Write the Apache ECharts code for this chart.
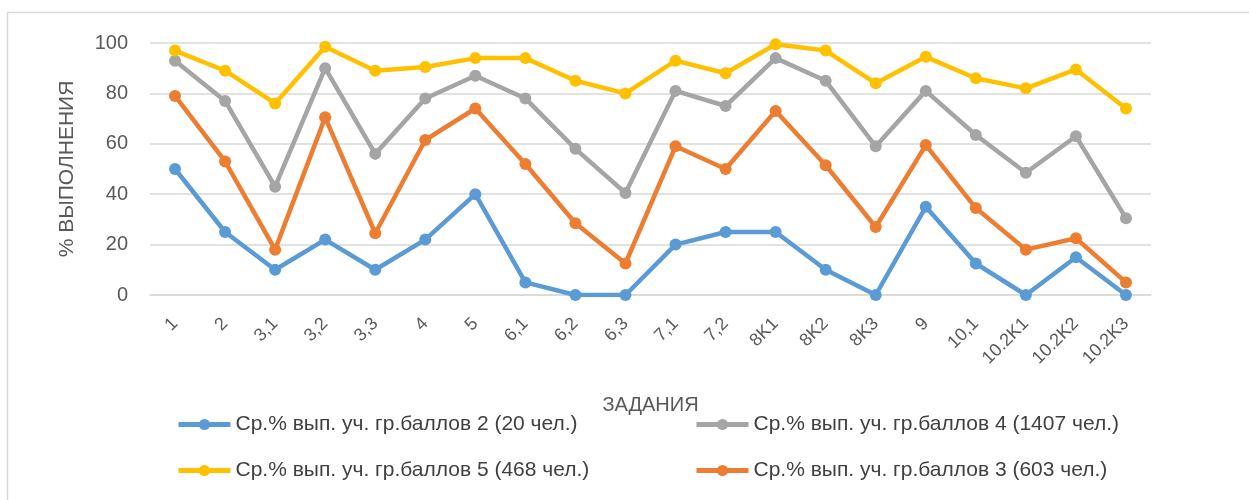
<!DOCTYPE html>
<html>
<head>
<meta charset="utf-8">
<script src="https://cdn.jsdelivr.net/npm/echarts@6/dist/echarts.min.js"></script>
<style>
  html, body { margin: 0; padding: 0; background: #fff; }
  #chart { width: 1249px; height: 500px; }
</style>
</head>
<body>
<div id="chart"></div>
<script>
// задания
var categories = ['1', '2', '3,1', '3,2', '3,3', '4', '5', '6,1', '6,2', '6,3', '7,1', '7,2', '8K1', '8K2', '8K3', '9', '10,1', '10.2K1', '10.2K2', '10.2K3']
var yTicks = [0, 20, 40, 60, 80, 100]

var names = [
  'Ср.% вып. уч. гр.баллов 2 (20 чел.)',
  'Ср.% вып. уч. гр.баллов 4 (1407 чел.)',
  'Ср.% вып. уч. гр.баллов 5 (468 чел.)',
  'Ср.% вып. уч. гр.баллов 3 (603 чел.)'
]

var ball2 = [50, 25, 10, 22, 10, 22, 40, 5, 0, 0, 20, 25, 25, 10, 0, 35, 12.5, 0, 15, 0]
var ball4 = [93, 77, 43, 90, 56, 78, 87, 78, 58, 40.5, 81, 75, 94, 85, 59, 81, 63.5, 48.5, 63, 30.5]
var ball5 = [97, 89, 76, 98.5, 89, 90.5, 94, 94, 85, 80, 93, 88, 99.5, 97, 84, 94.5, 86, 82, 89.5, 74]
var ball3 = [79, 53, 18, 70.5, 24.5, 61.5, 74, 52, 28.5, 12.5, 59, 50, 73, 51.5, 27, 59.5, 34.5, 18, 22.5, 5]

var colors = ['#5B9BD5', '#A5A5A5', '#FFC000', '#ED7D31']
var seriesData = [ball2, ball4, ball5, ball3]

var chart = echarts.init(document.getElementById('chart'))

function makeSeries(i, z) {
  return {
    name: names[i],
    type: 'line',
    data: seriesData[i],
    z: z,
    symbol: 'circle',
    symbolSize: 12,
    lineStyle: { width: 4.5, color: colors[i] },
    itemStyle: { color: colors[i] },
    animation: false
  }
}

function makeLegend(i, left, top) {
  return {
    data: [names[i]],
    left: left,
    top: top,
    itemWidth: 52,
    itemHeight: 14,
    itemGap: 6,
    lineStyle: { width: 5 },
    textStyle: { fontFamily: 'Liberation Sans', fontSize: 21, color: '#404040' }
  }
}

chart.setOption({
  color: colors,
  graphic: [{
    type: 'rect',
    shape: { x: 7.5, y: 12.5, width: 1300, height: 600 },
    style: { fill: 'none', stroke: '#d9d9d9', lineWidth: 1.5 },
    silent: true
  }],
  legend: [
    makeLegend(0, 171, 409),
    makeLegend(1, 689, 409),
    makeLegend(2, 171, 455),
    makeLegend(3, 689, 455)
  ],
  grid: { left: 150, right: 98, top: 43, bottom: 205 },
  xAxis: {
    type: 'category',
    data: categories,
    boundaryGap: true,
    axisLine: { lineStyle: { color: '#d9d9d9', width: 1.5 } },
    axisTick: { show: false },
    axisLabel: { rotate: 45, fontFamily: 'Liberation Sans', fontSize: 18, color: '#595959', margin: 26, interval: 0 },
    name: 'ЗАДАНИЯ',
    nameLocation: 'middle',
    nameGap: 100,
    nameTextStyle: { fontFamily: 'Liberation Sans', fontSize: 20, color: '#595959' }
  },
  yAxis: {
    type: 'value',
    min: yTicks[0],
    max: yTicks[yTicks.length - 1],
    interval: 20,
    axisLine: { show: false },
    axisTick: { show: false },
    splitLine: { lineStyle: { color: '#d9d9d9', width: 1.5 } },
    axisLabel: { fontFamily: 'Liberation Sans', fontSize: 20, color: '#595959', margin: 22 },
    name: '% ВЫПОЛНЕНИЯ',
    nameLocation: 'middle',
    nameGap: 72,
    nameRotate: 90,
    nameTextStyle: { fontFamily: 'Liberation Sans', fontSize: 21, color: '#595959' }
  },
  series: [
    makeSeries(3, 2),
    makeSeries(0, 3),
    makeSeries(1, 4),
    makeSeries(2, 5)
  ]
})
</script>
</body>
</html>
